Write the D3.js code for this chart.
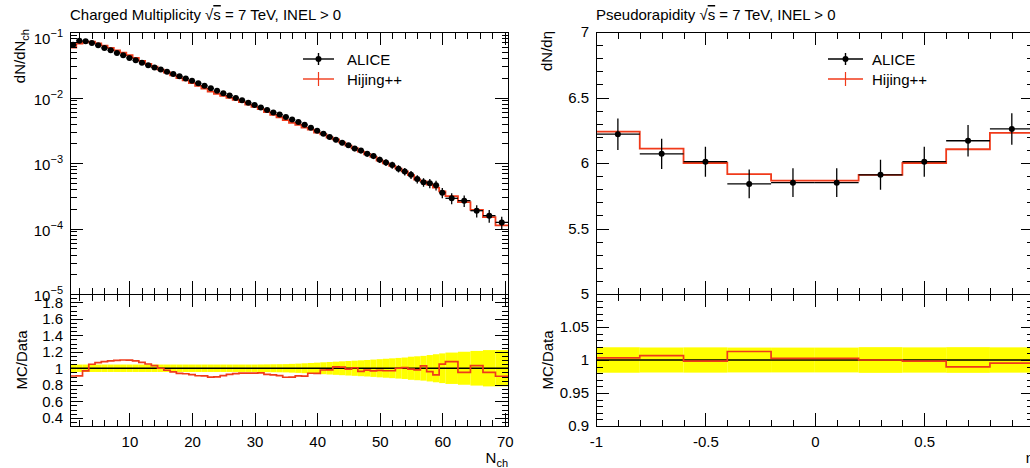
<!DOCTYPE html>
<html><head><meta charset="utf-8">
<script src="https://cdn.jsdelivr.net/npm/d3@7"></script>
<style>
body{margin:0;background:#fff;}
svg{display:block;}
text{white-space:pre;}
</style></head><body>
<svg id="c" width="1030" height="468"></svg>
<script>
// ---------------- DATA ----------------
// Left: charged multiplicity distribution
const nchEdges = [0.5,1.5,2.5,3.5,4.5,5.5,6.5,7.5,8.5,9.5,10.5,11.5,12.5,13.5,14.5,15.5,16.5,17.5,18.5,19.5,20.5,
  21.5,22.5,23.5,24.5,25.5,26.5,27.5,28.5,29.5,30.5,31.5,32.5,33.5,34.5,35.5,36.5,37.5,38.5,39.5,40.5,
  41.5,42.5,43.5,44.5,45.5,46.5,47.5,48.5,49.5,50.5,51.5,52.5,53.5,54.5,55.5,56.5,57.5,58.5,59.5,60.5,
  62.5,64.5,66.5,68.5,70.5];
const aliceNch = [0.064,0.0736,0.0721,0.0679,0.0626,0.0572,0.0525,0.0479,0.0440,0.0402,
  0.0370,0.0338,0.0311,0.0288,0.0267,0.0247,0.0228,0.0211,0.0195,0.0180,
  0.0165,0.0151,0.0138,0.0127,0.0116,0.0107,0.00985,0.00905,0.00830,0.00765,
  0.00705,0.00645,0.00592,0.00548,0.00505,0.00460,0.00423,0.00382,0.00345,0.00310,
  0.00280,0.00250,0.00226,0.00203,0.00186,0.00167,0.00155,0.00139,0.00128,0.00112,
  0.00102,0.00093,0.00082,0.00074,0.00066,0.00057,0.00051,0.00049,0.000457,0.000352,
  0.000289,0.000266,0.000187,0.000157,0.000124];
const aliceNchRelErr = [0.045,0.045,0.045,0.045,0.045,0.045,0.045,0.045,0.045,0.045,
  0.045,0.045,0.045,0.045,0.045,0.045,0.045,0.045,0.045,0.045,
  0.045,0.045,0.045,0.045,0.045,0.045,0.045,0.045,0.045,0.045,
  0.046,0.047,0.048,0.049,0.05,0.053,0.056,0.06,0.064,0.068,
  0.072,0.076,0.08,0.084,0.088,0.092,0.096,0.1,0.105,0.11,
  0.115,0.12,0.125,0.13,0.14,0.145,0.15,0.16,0.17,0.18,
  0.19,0.2,0.21,0.22,0.22];
const hijingNch = [0.0580,0.0668,0.0698,0.0712,0.0669,0.0618,0.0572,0.0525,0.0484,0.0442,
  0.0403,0.0362,0.0327,0.0297,0.0267,0.0241,0.0218,0.0198,0.0182,0.0166,
  0.0150,0.0137,0.0123,0.01137,0.01056,0.00990,0.00921,0.00851,0.00780,0.00719,
  0.00666,0.00597,0.00545,0.00499,0.00450,0.00410,0.00384,0.00346,0.00324,0.00291,
  0.00274,0.00245,0.00230,0.00206,0.00184,0.00168,0.00149,0.00136,0.00124,0.00109,
  0.000989,0.000902,0.00082,0.000746,0.000653,0.000559,0.000525,0.000470,0.000420,0.000370,
  0.000312,0.000253,0.000193,0.000149,0.000112];

// Right: pseudorapidity distribution
const etaEdges = [-1,-0.8,-0.6,-0.4,-0.2,0,0.2,0.4,0.6,0.8,1];
const aliceEta = [6.22,6.07,6.01,5.84,5.85,5.85,5.91,6.01,6.17,6.26];
const aliceEtaErr = [0.12,0.115,0.115,0.11,0.11,0.11,0.115,0.115,0.12,0.12];
const hijingEta = [6.24,6.11,6.00,5.915,5.865,5.865,5.91,6.00,6.105,6.23];

// Tick values
const nchMajor = [10,20,30,40,50,60,70];
const nchMinor = [2,4,6,8,12,14,16,18,22,24,26,28,32,34,36,38,42,44,46,48,52,54,56,58,62,64,66,68];
const logMajor = [1e-5,1e-4,1e-3,1e-2,1e-1];
const logExp = [-5,-4,-3,-2,-1];
const ratioLMajor = [0.4,0.6,0.8,1,1.2,1.4,1.6,1.8];
const ratioLMinor = [0.3,0.35,0.45,0.5,0.55,0.65,0.7,0.75,0.85,0.9,0.95,1.05,1.1,1.15,1.25,1.3,1.35,1.45,1.5,1.55,1.65,1.7,1.75,1.85];
const etaMajor = [-1,-0.5,0,0.5,1];
const etaLabels = [-1,-0.5,0,0.5];
const etaMinor = [-0.9,-0.8,-0.7,-0.6,-0.4,-0.3,-0.2,-0.1,0.1,0.2,0.3,0.4,0.6,0.7,0.8,0.9];
const dndetaMajor = [5,5.5,6,6.5,7];
const dndetaMinor = [5.1,5.2,5.3,5.4,5.6,5.7,5.8,5.9,6.1,6.2,6.3,6.4,6.6,6.7,6.8,6.9];
const ratioRMajor = [0.9,0.95,1,1.05];
const ratioRMinor = [0.91,0.92,0.93,0.94,0.96,0.97,0.98,0.99,1.01,1.02,1.03,1.04,1.06,1.07,1.08,1.09];

// ---------------- DRAWING ----------------
const FONT = "'Liberation Sans', Arial, Helvetica, sans-serif";
const RED = "#f03a1a";
const svg = d3.select("#c");
svg.append("rect").attr("width",1030).attr("height",468).attr("fill","#fff");

const TOP = 32, MID = 294, BOT = 426;
const MAJ = 13, MIN = 6.5;

function axis(fn, scale, vals, size, fmt, pad, tr) {
  const a = fn(scale).tickValues(vals).tickSize(size).tickPadding(pad || 0)
    .tickFormat(fmt || (() => ""));
  const g = svg.append("g").attr("transform", tr).call(a);
  g.select(".domain").remove();
  g.attr("font-family", FONT).attr("font-size", 15);
  g.selectAll("line").attr("stroke", "#000").attr("shape-rendering", "crispEdges");
  g.selectAll("text").attr("fill", "#000");
  return g;
}
function numFmt(v) { return String(+v.toFixed(3)); }

function drawPanelTicks(x, y, y0, y1, xMaj, xMin, yMaj, yMin, yFmt, xFmt, yLabelVals, xLabelVals) {
  const xl = x.range()[0], xr = x.range()[1];
  axis(d3.axisTop, x, xMaj, -MAJ, null, 0, `translate(0,${y1})`);
  axis(d3.axisTop, x, xMin, -MIN, null, 0, `translate(0,${y1})`);
  axis(d3.axisBottom, x, xMaj, -MAJ, null, 0, `translate(0,${y0})`);
  axis(d3.axisBottom, x, xMin, -MIN, null, 0, `translate(0,${y0})`);
  if (xFmt) {
    const g = svg.append("g").attr("transform", `translate(0,${y0})`)
      .call(d3.axisBottom(x).tickValues(xLabelVals).tickSize(0).tickPadding(10).tickFormat(xFmt));
    g.select(".domain").remove();
    g.attr("font-family", FONT).attr("font-size", 15);
    g.selectAll("text").attr("fill", "#000");
  }
  axis(d3.axisLeft, y, yMaj, -MAJ, null, 0, `translate(${xl},0)`);
  axis(d3.axisLeft, y, yMin, -MIN, null, 0, `translate(${xl},0)`);
  axis(d3.axisRight, y, yMaj, -MAJ, null, 0, `translate(${xr},0)`);
  axis(d3.axisRight, y, yMin, -MIN, null, 0, `translate(${xr},0)`);
  if (yFmt) {
    const g = svg.append("g").attr("transform", `translate(${xl},0)`)
      .call(d3.axisLeft(y).tickValues(yLabelVals).tickSize(0).tickPadding(7).tickFormat(yFmt));
    g.select(".domain").remove();
    g.attr("font-family", FONT).attr("font-size", 15);
    g.selectAll("text").attr("fill", "#000");
  }
}
function frame(x, y0, y1) {
  svg.append("rect").attr("x", x.range()[0]).attr("y", y1)
    .attr("width", x.range()[1] - x.range()[0]).attr("height", y0 - y1)
    .attr("fill", "none").attr("stroke", "#000").attr("stroke-width", 1)
    .attr("shape-rendering", "crispEdges");
}
function stepPts(edges, vals) {
  const p = [];
  vals.forEach((v, i) => { p.push([edges[i], v]); p.push([edges[i + 1], v]); });
  return p;
}
function title(x, main) {
  const t = svg.append("text").attr("x", x).attr("y", 20)
    .attr("font-family", FONT).attr("font-size", 15).attr("fill", "#000");
  t.append("tspan").text(main + " ");
  t.append("tspan").text("\u221A");
  t.append("tspan").style("text-decoration", "overline").text("s");
  t.append("tspan").text(" = 7 TeV, INEL > 0");
}
function ylabel(x, y, anchor, main, sub) {
  const t = svg.append("text").attr("transform", `translate(${x},${y}) rotate(-90)`)
    .attr("text-anchor", anchor).attr("font-family", FONT).attr("font-size", 15).attr("fill", "#000");
  t.append("tspan").text(main);
  if (sub) t.append("tspan").attr("dy", 4).attr("font-size", 11).text(sub);
}
function legend(x0, x1, xt) {
  const yA = 59, yH = 79, xm = (x0 + x1) / 2;
  svg.append("line").attr("x1", x0).attr("x2", x1).attr("y1", yA).attr("y2", yA).attr("stroke", "#000").attr("stroke-width", 1.4);
  svg.append("line").attr("x1", xm).attr("x2", xm).attr("y1", yA - 6).attr("y2", yA + 6).attr("stroke", "#000").attr("stroke-width", 1.4);
  svg.append("circle").attr("cx", xm).attr("cy", yA).attr("r", 3).attr("fill", "#000");
  svg.append("line").attr("x1", x0).attr("x2", x1).attr("y1", yH).attr("y2", yH).attr("stroke", RED).attr("stroke-width", 1.4);
  svg.append("line").attr("x1", xm).attr("x2", xm).attr("y1", yH - 7).attr("y2", yH + 7).attr("stroke", RED).attr("stroke-width", 1.2);
  svg.append("text").attr("x", xt).attr("y", yA + 5.5).attr("font-family", FONT).attr("font-size", 15).text("ALICE");
  svg.append("text").attr("x", xt).attr("y", yH + 5.5).attr("font-family", FONT).attr("font-size", 15).text("Hijing++");
}

function drawHistPanel(opts) {
  const {x, yT, yB, edges, data, err, mc} = opts;
  const bins = data.map((v, i) => ({lo: edges[i], hi: edges[i + 1], c: (edges[i] + edges[i + 1]) / 2, v, e: err[i], m: mc[i]}));
  const clipId = opts.id;
  svg.append("clipPath").attr("id", clipId + "T").append("rect")
    .attr("x", x.range()[0]).attr("y", TOP).attr("width", x.range()[1] - x.range()[0]).attr("height", MID - TOP);
  svg.append("clipPath").attr("id", clipId + "B").append("rect")
    .attr("x", x.range()[0]).attr("y", MID).attr("width", x.range()[1] - x.range()[0]).attr("height", BOT - MID);

  const gB = svg.append("g").attr("clip-path", `url(#${clipId}B)`);
  gB.selectAll("rect.band").data(bins).enter().append("rect")
    .attr("x", d => x(d.lo)).attr("width", d => x(d.hi) - x(d.lo))
    .attr("y", d => yB(1 + d.e / d.v)).attr("height", d => yB(1 - d.e / d.v) - yB(1 + d.e / d.v))
    .attr("fill", "#ffff00");
  gB.append("line").attr("x1", x.range()[0]).attr("x2", x.range()[1])
    .attr("y1", yB(1)).attr("y2", yB(1)).attr("stroke", "#000").attr("stroke-width", 1.3);
  const ratio = bins.map(d => d.m / d.v);
  gB.append("path").datum(stepPts(edges, ratio))
    .attr("d", d3.line().x(p => x(p[0])).y(p => yB(p[1])))
    .attr("fill", "none").attr("stroke", RED).attr("stroke-width", 1.7);

  const gT = svg.append("g").attr("clip-path", `url(#${clipId}T)`);
  gT.append("path").datum(stepPts(edges, mc))
    .attr("d", d3.line().x(p => x(p[0])).y(p => yT(p[1])))
    .attr("fill", "none").attr("stroke", RED).attr("stroke-width", 1.8);
  gT.selectAll("line.h").data(bins).enter().append("line")
    .attr("x1", d => x(d.lo)).attr("x2", d => x(d.hi)).attr("y1", d => yT(d.v)).attr("y2", d => yT(d.v))
    .attr("stroke", "#000").attr("stroke-width", 1.3);
  gT.selectAll("line.v").data(bins).enter().append("line")
    .attr("x1", d => x(d.c)).attr("x2", d => x(d.c)).attr("y1", d => yT(d.v - d.e)).attr("y2", d => yT(d.v + d.e))
    .attr("stroke", "#000").attr("stroke-width", 1.3);
  gT.selectAll("circle").data(bins).enter().append("circle")
    .attr("cx", d => x(d.c)).attr("cy", d => yT(d.v)).attr("r", opts.r).attr("fill", "#000");
}

// ----- Left panel -----
const xL = d3.scaleLinear().domain([0.5, 70.5]).range([70, 508]);
const yLT = d3.scaleLog().domain([1e-5, 1e-1]).range([MID, TOP]);
const yLB = d3.scaleLinear().domain([0.3, 1.9]).range([BOT, MID]);
const logMinor = [];
[-5, -4, -3, -2].forEach(e => [2,3,4,5,6,7,8,9].forEach(k => logMinor.push(k * Math.pow(10, e))));

drawHistPanel({id: "L", x: xL, yT: yLT, yB: yLB, edges: nchEdges, data: aliceNch,
  err: aliceNch.map((v, i) => v * aliceNchRelErr[i]), mc: hijingNch, r: 3});

drawPanelTicks(xL, yLT, MID, TOP, nchMajor, nchMinor, logMajor, logMinor, null, null);
drawPanelTicks(xL, yLB, BOT, MID, nchMajor, nchMinor, ratioLMajor, ratioLMinor, numFmt, d => String(d), ratioLMajor, nchMajor);
{
  const g = svg.append("g").attr("font-family", FONT).attr("fill", "#000");
  logMajor.forEach((v, i) => {
    const t = g.append("text").attr("x", 63).attr("y", yLT(v) + (i === logMajor.length - 1 ? 12 : 7))
      .attr("text-anchor", "end").attr("font-size", 15);
    t.append("tspan").text("10");
    t.append("tspan").attr("dy", -7).attr("font-size", 11).text("\u2212" + String(-logExp[i]));
  });
}
frame(xL, MID, TOP);
frame(xL, BOT, MID);
legend(303, 334, 347);
title(70, "Charged Multiplicity");
ylabel(25, 29, "end", "dN/dN", "ch");
ylabel(27, (MID + BOT) / 2, "middle", "MC/Data");
{
  const t = svg.append("text").attr("x", 508).attr("y", 463).attr("text-anchor", "end")
    .attr("font-family", FONT).attr("font-size", 15);
  t.append("tspan").text("N");
  t.append("tspan").attr("dy", 4).attr("font-size", 11).text("ch");
}

// ----- Right panel -----
const xR = d3.scaleLinear().domain([-1, 1]).range([596, 1033.7]);
const yRT = d3.scaleLinear().domain([5, 7]).range([MID, TOP]);
const yRB = d3.scaleLinear().domain([0.9, 1.1]).range([BOT, MID]);

drawHistPanel({id: "R", x: xR, yT: yRT, yB: yRB, edges: etaEdges, data: aliceEta,
  err: aliceEtaErr, mc: hijingEta, r: 3});
drawPanelTicks(xR, yRT, MID, TOP, etaMajor, etaMinor, dndetaMajor, dndetaMinor, numFmt, null, dndetaMajor);
drawPanelTicks(xR, yRB, BOT, MID, etaMajor, etaMinor, ratioRMajor, ratioRMinor, numFmt, d => numFmt(d).replace("\u2212", "-"), ratioRMajor, etaLabels);
frame(xR, MID, TOP);
frame(xR, BOT, MID);
legend(828, 863, 872);
title(596, "Pseudorapidity");
ylabel(552, 31, "end", "dN/d\u03B7");
ylabel(553, (MID + BOT) / 2, "middle", "MC/Data");
svg.append("text").attr("x", 1034).attr("y", 463).attr("text-anchor", "end")
  .attr("font-family", FONT).attr("font-size", 15).text("\u03B7");
</script>
</body></html>
